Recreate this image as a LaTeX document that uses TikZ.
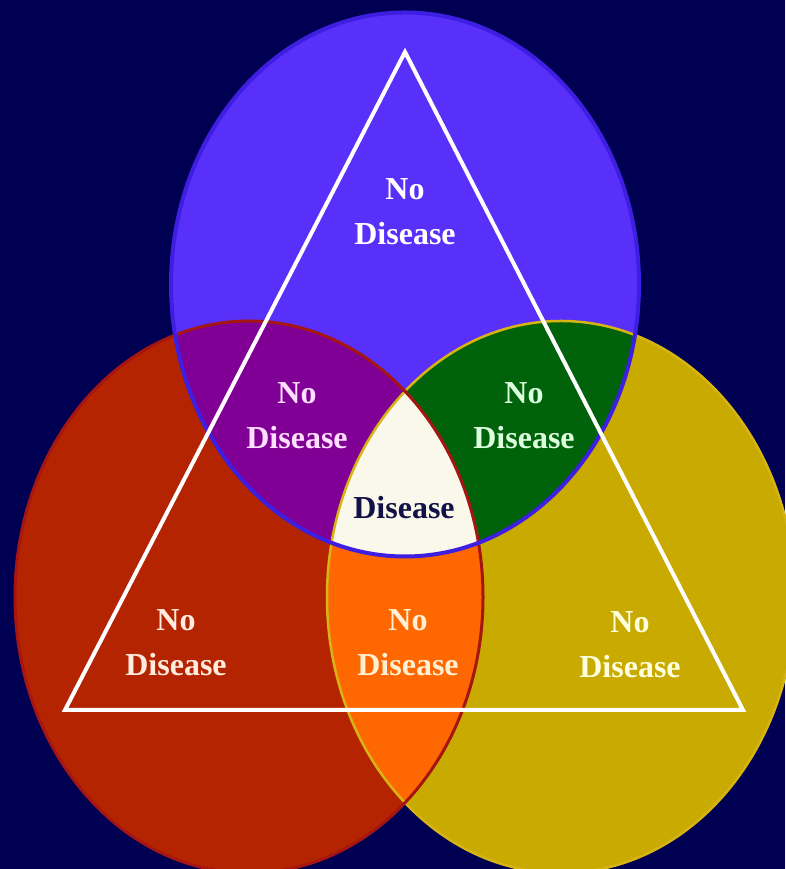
\documentclass[tikz,border=0pt]{standalone}
\usepackage{fontspec}
\setmainfont{Liberation Serif}

\definecolor{navy}{RGB}{0,0,82}
\definecolor{blueset}{RGB}{88,48,250}
\definecolor{blueedge}{RGB}{62,30,225}
\definecolor{redset}{RGB}{180,36,0}
\definecolor{rededge}{RGB}{165,22,18}
\definecolor{yellowset}{RGB}{200,170,0}
\definecolor{yellowedge}{RGB}{215,180,20}
\definecolor{purpleset}{RGB}{128,0,150}
\definecolor{greenset}{RGB}{0,98,10}
\definecolor{orangeset}{RGB}{255,104,0}
\definecolor{centreset}{RGB}{250,248,234}

\newcommand{\Bset}{(405,584.5) ellipse [x radius=234pt, y radius=272pt]}
\newcommand{\Rset}{(249,272) ellipse [x radius=234pt, y radius=276pt]}
\newcommand{\Yset}{(561,272) ellipse [x radius=234pt, y radius=276pt]}

\begin{document}
\begin{tikzpicture}[x=1pt, y=1pt,
  lbl/.style={font=\bfseries\fontsize{32}{45}\selectfont, align=center, inner sep=0pt}]
  % Background
  \fill[navy] (0,0) rectangle (785,869);
  \useasboundingbox (0,0) rectangle (785,869);

  % Sets
  \fill[blueset] \Bset;
  \fill[redset] \Rset;
  \fill[yellowset] \Yset;

  % Overlaps
  \begin{scope}
    \clip \Bset;
    \fill[purpleset] \Rset;
    \fill[greenset] \Yset;
  \end{scope}
  \begin{scope}
    \clip \Rset;
    \fill[orangeset] \Yset;
    \clip \Yset;
    \fill[centreset] \Bset;
  \end{scope}

  % Edges
  \draw[yellowedge, line width=2.5pt] \Yset;
  \draw[rededge, line width=3pt] \Rset;
  \draw[blueedge, line width=4pt] \Bset;

  % Triangle
  \coordinate (T) at (405,817);
  \coordinate (L) at (65,159);
  \coordinate (R) at (743,159);
  \draw[white, line width=4pt, line join=miter] (T) -- (L) -- (R) -- cycle;

  % Labels
  \node[lbl, text=white] (b) at (405,657) {No\\Disease};
  \node[lbl, text={rgb,255:red,255;green,222;blue,255}] (br) at (297,453) {No\\Disease};
  \node[lbl, text={rgb,255:red,222;green,255;blue,222}] (by) at (524,453) {No\\Disease};
  \node[lbl, text={rgb,255:red,18;green,18;blue,70}] (bry) at (404,361) {Disease};
  \node[lbl, text={rgb,255:red,255;green,236;blue,222}] (r) at (176,226) {No\\Disease};
  \node[lbl, text={rgb,255:red,255;green,240;blue,212}] (ry) at (408,226) {No\\Disease};
  \node[lbl, text={rgb,255:red,255;green,255;blue,222}] (y) at (630,224) {No\\Disease};
\end{tikzpicture}
\end{document}
